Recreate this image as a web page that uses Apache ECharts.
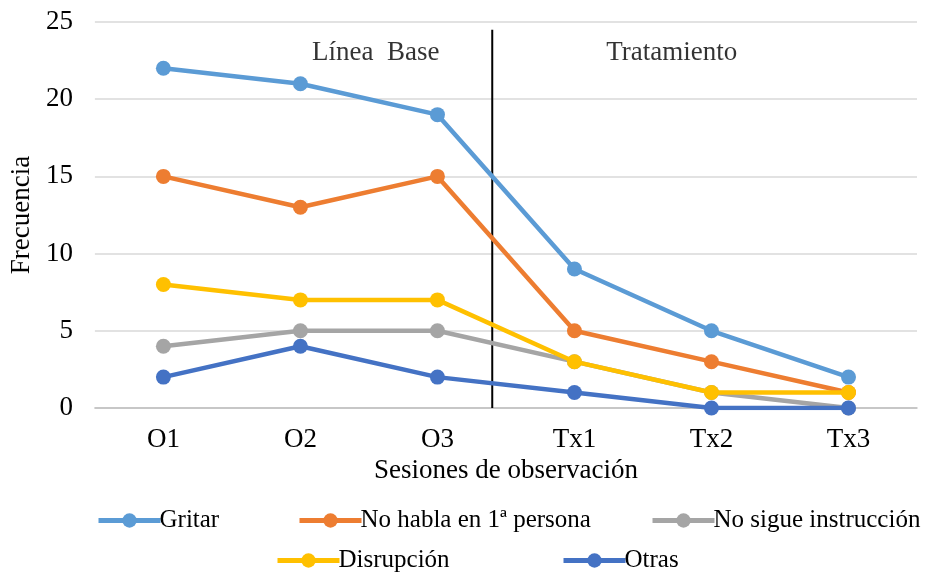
<!DOCTYPE html>
<html><head><meta charset="utf-8">
<script src="https://cdn.jsdelivr.net/npm/echarts@6/dist/echarts.min.js"></script>
<style>html,body{margin:0;padding:0;background:#fff}#c{width:927px;height:575px}</style>
</head><body><div id="c"></div>
<script>
const categories = ['O1','O2','O3','Tx1','Tx2','Tx3'];
const seriesNames = ['Gritar','No habla en 1ª persona','No sigue instrucción','Disrupción','Otras'];
const gritar = [22,21,19,9,5,2];
const noHabla = [15,13,15,5,3,1];
const noSigue = [4,5,5,3,1,0];
const disrupcion = [8,7,7,3,1,1];
const otras = [2,4,2,1,0,0];
const colors = ['#5B9BD5','#ED7D31','#A5A5A5','#FFC000','#4472C4'];
const phaseDivider = [[2.40,0],[2.40,24.5]];
const phaseLabels = [{name:'Línea  Base', value:[1.55,23]},{name:'Tratamiento', value:[3.71,23]}];

const font = 'Liberation Serif, Times New Roman, serif';
const values = [gritar,noHabla,noSigue,disrupcion,otras];
const chart = echarts.init(document.getElementById('c'));
const lineSeries = seriesNames.map((n,i)=>({
  name:n, type:'line', data:values[i], xAxisIndex:0, yAxisIndex:0,
  symbol:'circle', symbolSize:15, color:colors[i],
  lineStyle:{width:4.5,color:colors[i]}, itemStyle:{color:colors[i]}, z:2+i
}));
const legendPos = [
  {left:91, top:503},{left:292, top:503},{left:645, top:503},
  {left:270, top:543},{left:556, top:543}
];
chart.setOption({
  animation:false,
  textStyle:{fontFamily:font},
  grid:{left:89, right:10, top:22, bottom:167},
  xAxis:[{
    type:'category', data:categories, boundaryGap:true,
    axisLine:{lineStyle:{color:'#BFBFBF',width:1.5}}, axisTick:{show:false},
    axisLabel:{color:'#000', fontSize:27, margin:18, fontFamily:font},
    name:'Sesiones de observación', nameLocation:'middle', nameGap:46,
    nameTextStyle:{color:'#000', fontSize:27, fontFamily:font}
  },{
    type:'value', min:-0.5, max:5.5, show:false
  }],
  yAxis:{
    type:'value', min:0, max:25, interval:5,
    axisLine:{show:false}, axisTick:{show:false},
    splitLine:{lineStyle:{color:'#D9D9D9',width:1.5}},
    axisLabel:{color:'#000', fontSize:27, margin:22, fontFamily:font},
    name:'Frecuencia', nameLocation:'middle', nameGap:58,
    nameTextStyle:{color:'#000', fontSize:27, fontFamily:font}
  },
  legend: seriesNames.map((n,i)=>({
    data:[n], left:legendPos[i].left, top:legendPos[i].top,
    itemWidth:62, itemHeight:18, itemGap:0,
    lineStyle:{width:5},
    textStyle:{color:'#000', fontSize:25, fontFamily:font, padding:[0,0,0,-6]}
  })),
  series: lineSeries.concat([
    {type:'line', name:'divider', data:phaseDivider, xAxisIndex:1, yAxisIndex:0,
     symbol:'none', lineStyle:{color:'#000',width:2}, z:1, silent:true},
    {type:'scatter', name:'phases', data:phaseLabels, xAxisIndex:1, yAxisIndex:0,
     symbolSize:0, silent:true,
     label:{show:true, position:'inside', formatter:p=>p.name, color:'#000', fontSize:27, fontFamily:font}}
  ])
});
</script></body></html>
